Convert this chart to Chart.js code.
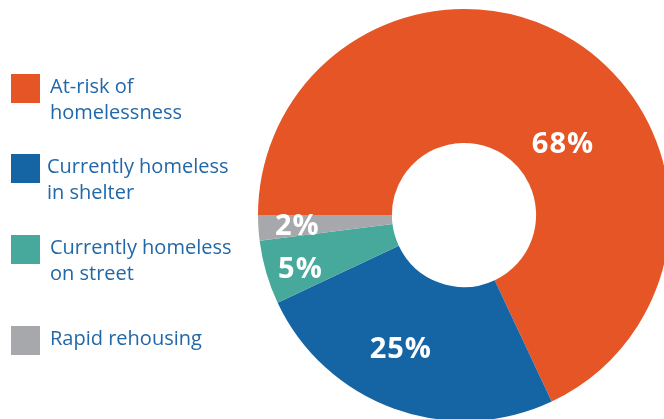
<!DOCTYPE html>
<html>
<head>
<meta charset="utf-8">
<script src="https://cdn.jsdelivr.net/npm/chart.js@4.4.0/dist/chart.umd.min.js"></script>
<style>
  body { margin: 0; width: 664px; height: 419px; overflow: hidden; background: #fff; font-family: "Open Sans", sans-serif; }
  #wrap { position: absolute; left: 0; top: 0; width: 671px; height: 421px; }
  .item { position: absolute; left: 11px; }
  .box { position: absolute; left: 0; top: 0; width: 29px; height: 29px; }
  .txt { position: absolute; left: 39px; top: -1px; white-space: nowrap; font-size: 20px; line-height: 26px; color: #2268a8; }
</style>
</head>
<body>
<div id="wrap"><canvas id="pieChart"></canvas></div>
<div id="legend"></div>
<script>
// categories and values
const categories = [
  ["At-risk of", "homelessness"],
  ["Currently homeless", "in shelter"],
  ["Currently homeless", "on street"],
  ["Rapid rehousing"]
];
const shares = [68, 25, 5, 2];
const colors = ["#e65525", "#1565a5", "#47a99b", "#a6a8ab"];

// where the percent labels sit inside each slice (fraction along arc, fraction across ring)
const labelAlong = [0.59, 0.56, 0.37, 0.43];
const labelAcross = [0.37, 0.57, 0.75, 0.71];

// legend rows
const legendTops = [74, 154, 235, 326];
const legendTextShift = [0, -3, 0, 0];

let legendHTML = '';
categories.forEach((lines, i) => {
  legendHTML += `
    <div class="item" style="top:${legendTops[i]}px">
      <div class="box" style="background:${colors[i]}"></div>
      <div class="txt" style="margin-left:${legendTextShift[i]}px">${lines.join('<br>')}</div>
    </div>
  `;
});
document.getElementById("legend").innerHTML = legendHTML;

// draw the percentages on the slices
const percentLabels = {
  id: 'percentLabels',
  afterDatasetsDraw(chart) {
    const ctx = chart.ctx;
    const arcs = chart.getDatasetMeta(0).data;
    ctx.save();
    ctx.fillStyle = '#ffffff';
    ctx.font = '700 29px "Open Sans", sans-serif';
    ctx.letterSpacing = '1px';
    ctx.textAlign = 'center';
    ctx.textBaseline = 'middle';
    arcs.forEach((arc, i) => {
      const p = arc.getProps(['x', 'y', 'startAngle', 'endAngle', 'innerRadius', 'outerRadius'], true);
      const a = p.startAngle + labelAlong[i] * (p.endAngle - p.startAngle);
      const r = p.innerRadius + labelAcross[i] * (p.outerRadius - p.innerRadius);
      ctx.fillText(shares[i] + '%', p.x + Math.cos(a) * r, p.y + Math.sin(a) * r);
    });
    ctx.restore();
  }
};

const ctx = document.getElementById('pieChart').getContext('2d');

new Chart(ctx, {
  type: 'doughnut',
  data: {
    labels: categories.map(l => l.join(' ')),
    datasets: [{
      data: shares,
      backgroundColor: colors,
      borderWidth: 0
    }]
  },
  options: {
    responsive: true,
    maintainAspectRatio: false,
    animation: false,
    rotation: -90,
    cutout: '35%',
    layout: { padding: { left: 257, top: 9, right: 0, bottom: 0 } },
    plugins: {
      legend: { display: false },
      tooltip: { enabled: false }
    }
  },
  plugins: [percentLabels]
});
</script>
</body>
</html>
